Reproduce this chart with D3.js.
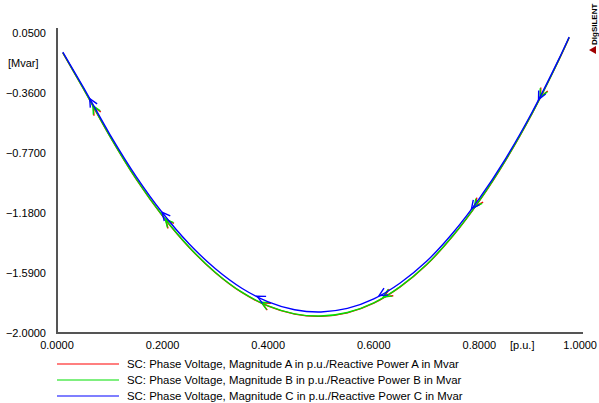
<!DOCTYPE html>
<html>
<head>
<meta charset="utf-8">
<script src="https://cdn.jsdelivr.net/npm/d3@7"></script>
<style>
  body { margin: 0; background: #fff; }
  svg text { font-family: "Liberation Sans", Arial, sans-serif; font-size: 11px; fill: #000; }
</style>
</head>
<body>
<svg id="chart" width="599" height="403"></svg>
<script>
// voltage magnitude in p.u. (x) and reactive power in Mvar (y)
let voltage = [0.011, 0.05, 0.1, 0.15, 0.2, 0.25, 0.3, 0.35, 0.4, 0.45, 0.5, 0.55, 0.6, 0.65, 0.7, 0.75, 0.8, 0.85, 0.9, 0.95, 0.97];
let qA = [-0.086, -0.331, -0.655, -0.949, -1.201, -1.414, -1.588, -1.723, -1.817, -1.871, -1.886, -1.862, -1.796, -1.685, -1.534, -1.336, -1.097, -0.818, -0.499, -0.138, 0.018];
let qB = [-0.085, -0.330, -0.654, -0.947, -1.199, -1.412, -1.586, -1.721, -1.815, -1.869, -1.884, -1.860, -1.794, -1.683, -1.532, -1.334, -1.095, -0.817, -0.498, -0.137, 0.019];
let qC = [-0.080, -0.322, -0.642, -0.931, -1.180, -1.390, -1.561, -1.694, -1.787, -1.841, -1.856, -1.832, -1.767, -1.658, -1.510, -1.315, -1.080, -0.806, -0.490, -0.132, 0.023];

// where the direction arrows sit, in p.u.
let arrowsA = [0.069, 0.206, 0.388, 0.62, 0.792, 0.916];
let arrowsB = [0.068, 0.205, 0.387, 0.618, 0.79, 0.915];
let arrowsC = [0.062, 0.199, 0.379, 0.61, 0.785, 0.912];

let xTicks = [0, 0.2, 0.4, 0.6, 0.8, 1.0];
let yTicks = [0.05, -0.36, -0.77, -1.18, -1.59, -2.0];

let seriesNames = [
  "SC: Phase Voltage, Magnitude A in p.u./Reactive Power A in Mvar",
  "SC: Phase Voltage, Magnitude B in p.u./Reactive Power B in Mvar",
  "SC: Phase Voltage, Magnitude C in p.u./Reactive Power C in Mvar"
];
let colors = ["#ff0000", "#00e000", "#0000ff"];

let svg = d3.select("#chart");

let x = d3.scaleLinear().domain([0, 1]).range([57, 585]);
let y = d3.scaleLinear().domain([-2.0, 0.05]).range([333, 33]);

// axes (no tick marks, only labels)
svg.append("line")
  .attr("x1", 57).attr("x2", 57).attr("y1", 28).attr("y2", 334)
  .attr("stroke", "#555").attr("stroke-width", 2);
svg.append("line")
  .attr("x1", 56).attr("x2", 583).attr("y1", 333).attr("y2", 333)
  .attr("stroke", "#555").attr("stroke-width", 2);

svg.selectAll("text.ytick")
  .data(yTicks)
  .enter()
  .append("text")
  .attr("class", "ytick")
  .attr("x", 46)
  .attr("y", (d) => y(d) + 4)
  .attr("text-anchor", "end")
  .text((d) => d3.format(".4f")(d));

// last label is pulled in so it stays inside the window
svg.selectAll("text.xtick")
  .data(xTicks)
  .enter()
  .append("text")
  .attr("class", "xtick")
  .attr("x", (d, i) => (i === xTicks.length - 1 ? 597 : x(d)))
  .attr("y", 349)
  .attr("text-anchor", (d, i) => (i === xTicks.length - 1 ? "end" : "middle"))
  .text((d) => d3.format(".4f")(d));

svg.append("text").attr("x", 8).attr("y", 67).text("[Mvar]");
svg.append("text").attr("x", 510).attr("y", 349).text("[p.u.]");

// curves
let line = d3.line()
  .x((d) => x(d[0]))
  .y((d) => y(d[1]))
  .curve(d3.curveCatmullRom);

let series = [qA, qB, qC];
let arrows = [arrowsA, arrowsB, arrowsC];

series.forEach((q, i) => {
  let pts = voltage.map((v, j) => [v, q[j]]);
  svg.append("path")
    .attr("d", line(pts))
    .attr("fill", "none")
    .attr("stroke", colors[i])
    .attr("stroke-width", 1.4);

  let qAt = d3.scaleLinear().domain(voltage).range(q);
  // arrows point toward decreasing voltage
  arrows[i].forEach((u) => {
    let px = x(u), py = y(qAt(u));
    let bx = x(u + 0.01), by = y(qAt(u + 0.01));
    let ang = Math.atan2(by - py, bx - px);
    let len = 9, spread = 0.45;
    let p1 = [px + len * Math.cos(ang - spread), py + len * Math.sin(ang - spread)];
    let p2 = [px + len * Math.cos(ang + spread), py + len * Math.sin(ang + spread)];
    svg.append("path")
      .attr("d", `M${p1[0]},${p1[1]}L${px},${py}L${p2[0]},${p2[1]}`)
      .attr("fill", "none")
      .attr("stroke", colors[i])
      .attr("stroke-width", 1.4);
  });
});

// legend
let legend = svg.selectAll("g.legend")
  .data(seriesNames)
  .enter()
  .append("g")
  .attr("class", "legend")
  .attr("transform", (d, i) => `translate(0, ${364 + i * 16})`);

legend.append("line")
  .attr("x1", 57).attr("x2", 119)
  .attr("stroke", (d, i) => colors[i])
  .attr("stroke-width", 1.2);
legend.append("text")
  .attr("x", 127)
  .attr("y", 4)
  .style("font-size", "11.4px")
  .text((d) => d);

// logo
svg.append("path").attr("d", "M589,50L596,46L596,54Z").attr("fill", "#a00000");
svg.append("text")
  .attr("transform", "translate(597, 45) rotate(-90)")
  .style("font-size", "8px")
  .style("font-weight", "bold")
  .text("DIgSILENT");
</script>
</body>
</html>
